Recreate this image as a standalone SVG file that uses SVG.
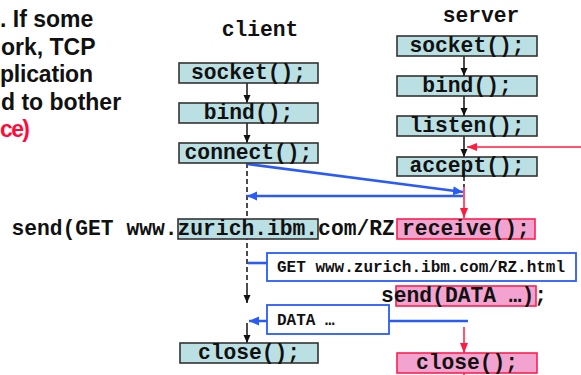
<svg xmlns="http://www.w3.org/2000/svg" width="581" height="375" viewBox="0 0 581 375">
<defs>
<style>
.prose{font-family:"Liberation Sans",Arial,sans-serif;font-weight:bold;font-size:23px;fill:#111}
.mono{font-family:"Liberation Mono","Courier New",monospace;font-weight:bold;font-size:21.3px;fill:#111}
.small{font-family:"Liberation Mono","Courier New",monospace;font-weight:bold;font-size:16px;fill:#111}
.teal{fill:#bbe0e3;stroke:#333;stroke-width:1.6}
.pink{fill:#f3a3cf;stroke:#ff1f4f;stroke-width:1.6}
.msg{fill:#fff;stroke:#2a5cf5;stroke-width:1.8}
.blk{stroke:#111;stroke-width:1.5;fill:none}
.dash{stroke:#111;stroke-width:1.5;fill:none;stroke-dasharray:5,3}
.blu{stroke:#2a5cf5;stroke-width:2.6;fill:none}
.red{stroke:#ff1a40;stroke-width:1.5;fill:none}
</style>
<marker id="ab" markerUnits="userSpaceOnUse" markerWidth="8" markerHeight="8" refX="8" refY="4" orient="auto"><path d="M0,0.5 L8,4 L0,7.5 z" fill="#111"/></marker>
<marker id="au" markerUnits="userSpaceOnUse" markerWidth="10" markerHeight="10" refX="10" refY="5" orient="auto"><path d="M0,0.5 L10,5 L0,9.5 z" fill="#2a5cf5"/></marker>
<marker id="ar" markerUnits="userSpaceOnUse" markerWidth="10" markerHeight="10" refX="10" refY="5" orient="auto"><path d="M0,1 L10,5 L0,9 z" fill="#ff1a40"/></marker>
</defs>
<rect width="581" height="375" fill="#fff"/>
<g id="prose">
<text class="prose" x="0" y="27">. If some</text>
<text class="prose" x="1" y="55">ork, TCP</text>
<text class="prose" x="0" y="82" textLength="93">plication</text>
<text class="prose" x="1" y="110">d to bother</text>
<text class="prose" x="0" y="137" textLength="30" style="fill:#ff0a3a">ce)</text>
</g>
<g id="client-label"><text class="mono" x="260" y="36" text-anchor="middle">client</text></g>
<g id="server-label"><text class="mono" x="481" y="22" text-anchor="middle">server</text></g>
<g id="connectors">
<line class="blk" x1="247" y1="83" x2="247" y2="103" marker-end="url(#ab)"/>
<line class="blk" x1="247" y1="123" x2="247" y2="143" marker-end="url(#ab)"/>
<line class="dash" x1="247" y1="163" x2="247" y2="284"/>
<line class="blk" x1="247" y1="284" x2="247" y2="303" marker-end="url(#ab)"/>
<line class="blk" x1="247" y1="323" x2="247" y2="343" marker-end="url(#ab)"/>
<line class="blk" x1="464" y1="56" x2="464" y2="76" marker-end="url(#ab)"/>
<line class="blk" x1="464" y1="96" x2="464" y2="116" marker-end="url(#ab)"/>
<line class="blk" x1="464" y1="136" x2="464" y2="157" marker-end="url(#ab)"/>
<line class="red" x1="581" y1="147" x2="467" y2="147" marker-end="url(#ar)"/>
<line class="dash" x1="464" y1="176" x2="464" y2="187"/>
<line class="red" x1="464" y1="187" x2="464" y2="218" marker-end="url(#ar)"/>
<line class="blu" x1="247" y1="164" x2="463" y2="192" marker-end="url(#au)"/>
<line class="blu" x1="463" y1="196" x2="247" y2="196" marker-end="url(#au)"/>
<line class="blu" x1="248" y1="263" x2="267" y2="263"/>
<line class="blu" x1="468" y1="321" x2="249" y2="321" marker-end="url(#au)"/>
<line class="red" x1="464" y1="327" x2="464" y2="353" marker-end="url(#ar)"/>
<line class="red" x1="464" y1="373" x2="464" y2="375"/>
</g>
<g id="c-socket"><rect class="teal" x="179" y="63" width="139" height="20"/><text class="mono" x="248.5" y="79" text-anchor="middle">socket();</text></g>
<g id="c-bind"><rect class="teal" x="179" y="103" width="139" height="20"/><text class="mono" x="248.5" y="119" text-anchor="middle">bind();</text></g>
<g id="c-connect"><rect class="teal" x="179" y="143" width="139" height="20"/><text class="mono" x="248.5" y="159" text-anchor="middle">connect();</text></g>
<g id="c-close"><rect class="teal" x="180" y="343" width="138" height="20"/><text class="mono" x="249" y="359" text-anchor="middle">close();</text></g>
<g id="s-socket"><rect class="teal" x="397" y="36" width="140" height="20"/><text class="mono" x="467" y="52" text-anchor="middle">socket();</text></g>
<g id="s-bind"><rect class="teal" x="397" y="76" width="140" height="20"/><text class="mono" x="467" y="92" text-anchor="middle">bind();</text></g>
<g id="s-listen"><rect class="teal" x="397" y="116" width="140" height="20"/><text class="mono" x="467" y="132" text-anchor="middle">listen();</text></g>
<g id="s-accept"><rect class="teal" x="397" y="157" width="140" height="19"/><text class="mono" x="467" y="172" text-anchor="middle">accept();</text></g>
<g id="send-get"><rect class="teal" x="178" y="219" width="140" height="20"/><text class="mono" x="11.4" y="235">send(GET www.zurich.ibm.com/RZ</text></g>
<g id="s-receive"><rect class="pink" x="397" y="219" width="138" height="20"/><text class="mono" x="466" y="235" text-anchor="middle">receive();</text></g>
<g id="msg-get"><rect class="msg" x="267" y="253" width="309" height="28"/><text class="small" x="277" y="272">GET www.zurich.ibm.com/RZ.html</text></g>
<g id="s-send"><rect class="pink" x="396" y="286" width="140" height="20"/><text class="mono" x="381" y="302">send(DATA …);</text></g>
<g id="msg-data"><rect class="msg" x="267" y="305" width="122" height="29"/><text class="small" x="277" y="325">DATA …</text></g>
<g id="s-close"><rect class="pink" x="397" y="353" width="140" height="20"/><text class="mono" x="467" y="369" text-anchor="middle">close();</text></g>
</svg>
